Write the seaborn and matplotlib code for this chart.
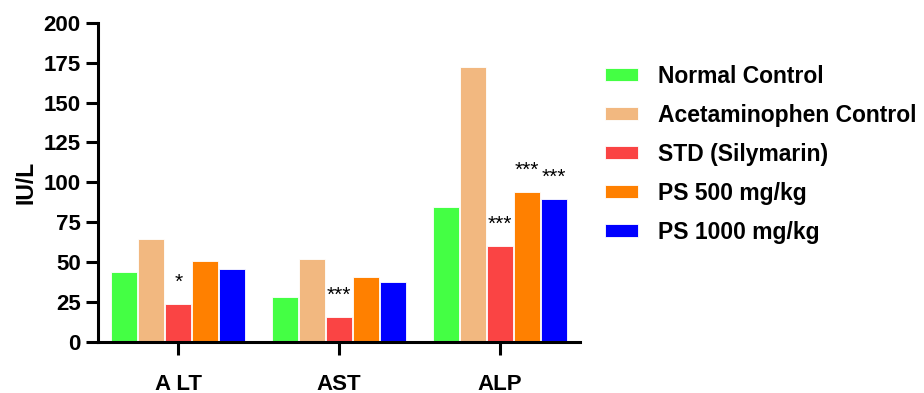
"""Liver enzyme levels (ALT, AST, ALP) by treatment group."""

import matplotlib.pyplot as plt
import pandas as pd
import seaborn as sns

markers = ["A LT", "AST", "ALP"]
groups = [
    "Normal Control",
    "Acetaminophen Control",
    "STD (Silymarin)",
    "PS 500 mg/kg",
    "PS 1000 mg/kg",
]
normal_control = [44, 28, 84.5]
acetaminophen_control = [64.5, 52, 172]
std_silymarin = [23.6, 15.5, 60]
ps_500 = [50.5, 40.6, 93.8]
ps_1000 = [45.5, 37.5, 89.5]
stars = {
    ("A LT", "STD (Silymarin)"): "*",
    ("AST", "STD (Silymarin)"): "***",
    ("ALP", "STD (Silymarin)"): "***",
    ("ALP", "PS 500 mg/kg"): "***",
    ("ALP", "PS 1000 mg/kg"): "***",
}
colors = ["#44FF44", "#F2B880", "#FA4444", "#FF8000", "#0000FF"]

series = [normal_control, acetaminophen_control, std_silymarin, ps_500, ps_1000]
df = pd.DataFrame(
    [(m, g, v[i]) for g, v in zip(groups, series) for i, m in enumerate(markers)],
    columns=["marker", "group", "value"],
)

sns.set_style("ticks", {"axes.edgecolor": "black", "text.color": "black",
                        "xtick.color": "black", "ytick.color": "black",
                        "axes.labelcolor": "black"})
plt.rcParams["font.family"] = ["Liberation Sans", "DejaVu Sans"]

fig = plt.figure(figsize=(9.24, 3.93), dpi=100)
ax = fig.add_axes([0.106, 0.1305, 0.522, 0.8115])

sns.barplot(
    data=df, x="marker", y="value", hue="group", order=markers, hue_order=groups,
    palette=colors, width=0.84, gap=0.04, edgecolor="white", linewidth=0.6,
    saturation=1, ax=ax,
)

# significance marks above the bars
for bars, g in zip(ax.containers, groups):
    for bar, m in zip(bars, markers):
        txt = stars.get((m, g))
        if txt:
            ax.annotate(
                txt, (bar.get_x() + bar.get_width() / 2, bar.get_height()),
                xytext=(0, 9), textcoords="offset points",
                ha="center", va="bottom", fontsize=15,
            )

ax.set_xlim(-0.5, 2.5)
ax.set_ylim(0, 200)
ax.set_yticks(range(0, 201, 25))
ax.set_xlabel("")
ax.set_ylabel("IU/L", fontsize=16.5, fontweight="bold", labelpad=4)
sns.despine(ax=ax)
for side in ["left", "bottom"]:
    ax.spines[side].set_linewidth(2.2)
ax.tick_params(axis="both", width=2.2, length=9, labelsize=16)
ax.tick_params(axis="x", pad=14)
for lab in ax.get_xticklabels() + ax.get_yticklabels():
    lab.set_fontweight("bold")

handles, labels = ax.get_legend_handles_labels()
ax.legend(
    handles, labels, loc="upper left", bbox_to_anchor=(0.655, 0.835),
    bbox_transform=fig.transFigure, frameon=False, borderpad=0,
    borderaxespad=0, handlelength=1.45, handleheight=0.5,
    handletextpad=0.85, labelspacing=0.7,
    prop={"size": 16.5, "weight": "bold"},
)

fig.savefig("out.png", dpi=100)
